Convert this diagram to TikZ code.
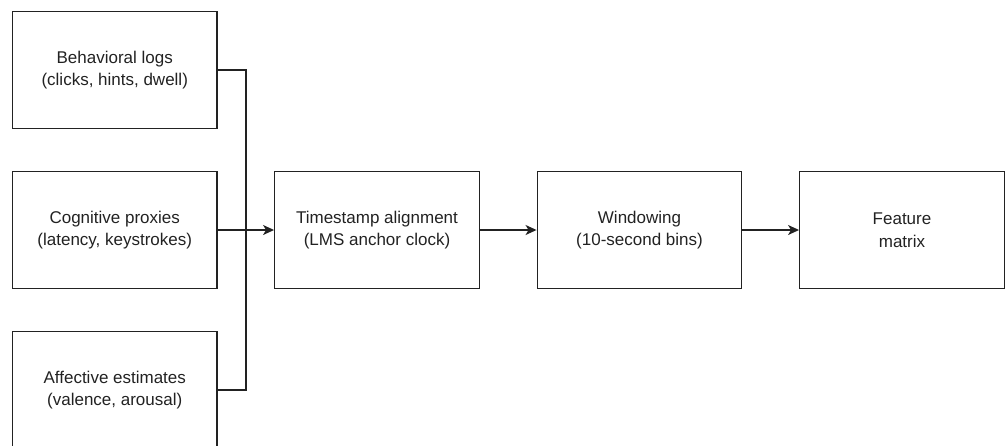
\documentclass[tikz,border=0pt]{standalone}
\usepackage{fontspec}
\setmainfont{Liberation Sans}
\usepackage{xcolor}
\usetikzlibrary{arrows.meta}
\definecolor{ink}{HTML}{222222}

\begin{document}
\begin{tikzpicture}[x=1pt,y=-1pt,
  box/.style={rectangle,draw=ink,line width=1.4pt,minimum width=204.5pt,minimum height=116.5pt,
    align=center,text=ink,inner sep=0pt,font=\fontsize{17}{22.5}\selectfont},
  link/.style={draw=ink,line width=1.4pt},
  arr/.style={link,-{Stealth[length=11pt,width=10pt,inset=3pt]}}]
\useasboundingbox (0,0) rectangle (1006,445);
\node (b1) at (114.75,70) [box] {Behavioral logs\\(clicks, hints, dwell)};
\node (b2) at (114.75,230) [box] {Cognitive proxies\\(latency, keystrokes)};
\node (b3) at (114.75,390) [box] {Affective estimates\\(valence, arousal)};
\node (ts) at (377,230) [box] {Timestamp alignment\\(LMS anchor clock)};
\node (win) at (639.5,230) [box] {Windowing\\(10-second bins)};
\node (feat) at (902,230) [box] {Feature\\matrix};
\coordinate (j) at (246,230);
\draw [link] (b1.east) -| (j);
\draw [link] (b3.east) -| (j);
\draw [arr] (b2) -- (ts);
\draw [arr] (ts) -- (win);
\draw [arr] (win) -- (feat);
\end{tikzpicture}
\end{document}
